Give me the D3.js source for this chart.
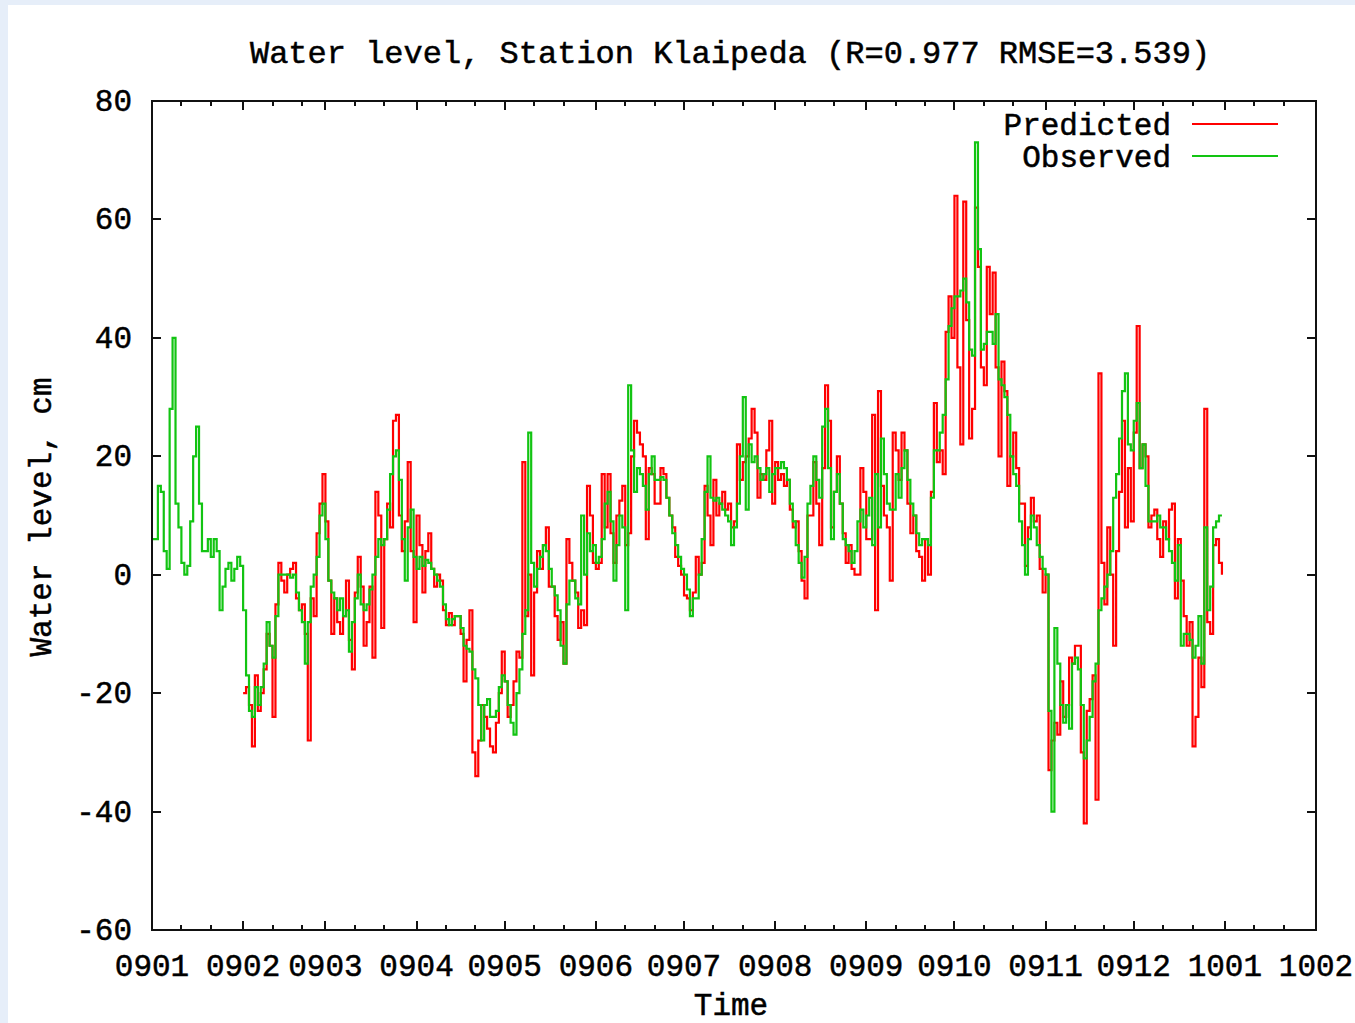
<!DOCTYPE html>
<html>
<head>
<meta charset="utf-8">
<script src="https://cdn.jsdelivr.net/npm/d3@7"></script>
<style>
  html, body { margin: 0; padding: 0; background: #e6eef9; }
  svg { display: block; }
  text { font-family: "Liberation Mono", "DejaVu Sans Mono", monospace; font-size: 31px; fill: #000; stroke: #000; stroke-width: 0.5px; }
</style>
</head>
<body>
<svg id="chart" width="1355" height="1023"></svg>
<script>
// ---- chart text ----
const chartTitle = "Water level, Station Klaipeda (R=0.977 RMSE=3.539)";
const xAxisTitle = "Time";
const yAxisTitle = "Water level, cm";
const seriesNames = ["Predicted", "Observed"];
const seriesColors = ["#ff0000", "#12c412"];

// ---- axes ----
const xDomain = ["2009-01-01", "2010-02-01"];
const yTicks = [-60, -40, -20, 0, 20, 40, 60, 80];

// ---- daily observed water level (cm), from 2009-01-01 ----
const observedStart = "2009-01-01";
const observed = [
  6, 6, 15, 14, 4, 1, 28, 40, 12, 8,
  2, 0, 1.5, 9, 20, 25, 12, 4, 4, 6,
  3, 6, 4, -6, -2, 1, 2, -1, 1, 3,
  1.5, -6, -17, -23, -24, -19, -22, -19, -15, -8,
  -12, -14, -7, 0, 0, 0, 0, -0.5, 0, -3,
  -6, -8, -15, -8, -2, 0, 3, 10, 12, 6,
  -1, -3, -4, -6, -4, -7, -6, -13, -8, -4,
  0, -5, -6, -5, -2.5, 0, 3, 6, 5, 6,
  11, 17, 20, 21, 16, 6, -1, 8, 11, 3,
  1, 3, 1.5, 2.5, 2, 1, 0, -1, -2, -5,
  -7.5, -8.5, -7.5, -7, -7, -9, -12, -12.5, -13, -16,
  -17.5, -22, -28, -22, -21, -24, -24, -23, -19, -17,
  -18, -22, -25, -27, -20, -16, -10, -6, 24, 2,
  -2, 1, 3, 5, 4, 1, -2, -3.5, -6, -12,
  -15, -5, -1, -1, -4, -5, 10, 0, 7, 4,
  5, 2, 3, 6, 12, 14, 9, -1, 5, 10,
  8, -6, 32, 21, 14, 18, 17, 15, 11, 17,
  20, 16, 16, 16.5, 16, 13, 10, 7, 5, 3,
  1, 0, -2.5, -7, -4, -4, 0, 6, 14, 20,
  13, 12.5, 13, 12, 11, 10, 9, 5, 8, 12,
  20, 30, 11, 22, 19, 20, 18, 16, 17, 18,
  14, 17, 18, 18, 19, 18, 16, 12, 9, 5,
  2, -0.5, 3, 12, 15, 20, 16, 13, 25, 28,
  18, 6, 14, 17, 12, 6, 5, 4, 2, 4,
  9, 11, 8, 10, 13, 5, 17, 8, 23, 17,
  12, 11, 11, 17, 13, 18, 21, 16, 12, 10,
  7, 5, 6, 6, 5, 13, 21, 21, 24, 27,
  33, 42, 45, 47, 47, 48, 50, 46, 38, 37,
  73, 55, 38, 39, 41, 41, 39, 44, 33, 32,
  30, 27, 20, 17, 15, 9, 5, 0, 6, 10,
  8, 5, 3, 1, 0, -23, -40, -9, -15, -22,
  -25, -22, -26, -15, -14, -16, -22, -31, -28, -24,
  -18, -15, -6, -4, -2, 0, 4, 13, 17, 23,
  31, 34, 22, 21, 26, 29, 18, 22, 15, 9,
  9, 9, 10, 8, 8, 6, 4, 2, -1, 5,
  -12, -10, -10, -11, -14, -12, -7, -15, 8, -6,
  -2, 8, 9, 10, 10
];

// ---- daily model prediction (cm), from 2009-02-01 ----
const predictedStart = "2009-02-01";
const predicted = [
  -20,
  -19, -22, -29, -17, -23, -20, -16, -10,
  -12, -24, -5, 2, -1, -3, 0, 1, 2, -4,
  -6, -5, -10, -28, -4, -7, 7, 12, 17, 9,
  -1, -10, -4, -8, -10, -7, -1, -11, -16, -3,
  3, -2, -12, -8, -2, -14, 14, 10, -9, 6,
  12, 8, 26, 27, 10, 4, 9, 19, 4, -8,
  10, 5, -3, 4, 7, 1, -2, 0, -1, -6,
  -8.5, -6.5, -8.5, -7, -7, -10, -18, -11, -6, -30,
  -34, -28, -22, -24, -26, -29, -30, -25, -20, -13,
  -18, -24, -22, -18, -13, -14, 19, -7, 0, -17,
  -3, 4, 1, 5, 8, -2, -2, -7, -11, -8,
  -15, 6, 2, -1, -3, -9, -6, -8.5, 15, 10,
  2, 1, 2, 17, 8, 17, 7, 2, 10, 12.5,
  15, 5, 7, 20, 26, 24, 22, 20, 6, 18,
  17, 12, 12, 18, 17, 13, 10, 8, 3, 1.5,
  0, -3.5, -4, -6, -3, 3, 0, 2, 15, 10,
  5, 16, 10, 12, 14, 11, 12, 8, 9, 22,
  16, 19, 20, 23, 28, 24, 13, 17, 16, 21,
  26, 12, 19, 16, 17, 15, 16, 11, 8, 9,
  4, -1, -4, 10, 10, 19, 12, 5, 18, 32,
  26, 8, 14, 20, 12, 7, 2, 5, 1, 0,
  0, 18, 14, 6, 6, 27, -6, 31, 15, 10,
  8, -1, 24, 21, 16, 24, 21, 12, 7, 10,
  4, 3, -1, 6, 0, 14, 29, 19, 21, 17,
  41, 47, 40, 64, 35, 22, 63, 43, 23, 28,
  62, 52, 35, 32, 52, 44, 51, 35, 20, 36,
  31, 15, 20, 24, 18, 12, 12, 1.5, 8, 13,
  9, 10, 1, -3, 0, -33, -28, -25, -27, -18,
  -24, -22, -14, -15, -12, -12, -30, -42, -23, -21,
  -17, -38, 34, 2, -5, 8, 0, -12, 4, 14,
  26, 8, 18, 9, 24, 42, 18, 22, 20, 8,
  10, 11, 6, 3, 9, 6, 11, 12, -4, 6,
  -1, -7, -12, -8, -29, -24, -14, -19, 28, -8,
  -10, 5, 6, 2, 0
];

// ---- layout ----
const W = 1355, H = 1023;
const plot = { left: 152, right: 1316, top: 101, bottom: 930 };

const svg = d3.select("#chart");

// page panel
svg.append("rect").attr("x", 0).attr("y", 0).attr("width", W).attr("height", H).attr("fill", "#e6eef9");
svg.append("rect").attr("x", 8).attr("y", 5).attr("width", W - 8).attr("height", H - 5).attr("fill", "#ffffff");

const x = d3.scaleUtc()
  .domain(xDomain.map(s => new Date(s)))
  .range([plot.left, plot.right]);
const y = d3.scaleLinear()
  .domain([d3.min(yTicks), d3.max(yTicks)])
  .range([plot.bottom, plot.top]);

const toPoints = (start, values) => {
  const t0 = new Date(start);
  return values.map((v, i) => ({ date: d3.utcDay.offset(t0, i), value: v }));
};
const series = [
  { name: seriesNames[0], color: seriesColors[0], points: toPoints(predictedStart, predicted) },
  { name: seriesNames[1], color: seriesColors[1], points: toPoints(observedStart, observed) }
];

// clip for the data lines
svg.append("defs").append("clipPath").attr("id", "plotClip")
  .append("rect")
  .attr("x", plot.left).attr("y", plot.top)
  .attr("width", plot.right - plot.left).attr("height", plot.bottom - plot.top);

const line = d3.line()
  .x(d => x(d.date))
  .y(d => y(d.value))
  .curve(d3.curveStepAfter);

const lines = svg.append("g").attr("clip-path", "url(#plotClip)");
series.forEach(s => {
  lines.append("path")
    .datum(s.points)
    .attr("fill", "none")
    .attr("stroke", s.color)
    .attr("stroke-width", 2.2)
    .attr("d", line);
});

// ---- axes: ticks on all four sides, pointing inward ----
const axisColor = "#111";
const axes = svg.append("g").attr("stroke", axisColor).attr("shape-rendering", "crispEdges");

const majorLen = 9, minorLen = 5;
const monthTicks = d3.utcMonth.range(x.domain()[0], d3.utcDay.offset(x.domain()[1], 1));
const minorTicks = d3.utcDay.range(x.domain()[0], x.domain()[1])
  .filter(d => d.getUTCDate() === 11 || d.getUTCDate() === 21);

monthTicks.forEach(d => {
  const px = Math.round(x(d));
  axes.append("line").attr("x1", px).attr("x2", px).attr("y1", plot.bottom).attr("y2", plot.bottom - majorLen).attr("stroke-width", 2);
  axes.append("line").attr("x1", px).attr("x2", px).attr("y1", plot.top).attr("y2", plot.top + majorLen).attr("stroke-width", 2);
});
minorTicks.forEach(d => {
  const px = Math.round(x(d));
  axes.append("line").attr("x1", px).attr("x2", px).attr("y1", plot.bottom).attr("y2", plot.bottom - minorLen).attr("stroke-width", 2);
  axes.append("line").attr("x1", px).attr("x2", px).attr("y1", plot.top).attr("y2", plot.top + minorLen).attr("stroke-width", 2);
});
yTicks.forEach(v => {
  const py = Math.round(y(v));
  axes.append("line").attr("x1", plot.left).attr("x2", plot.left + majorLen).attr("y1", py).attr("y2", py).attr("stroke-width", 2);
  axes.append("line").attr("x1", plot.right).attr("x2", plot.right - majorLen).attr("y1", py).attr("y2", py).attr("stroke-width", 2);
});

// frame
axes.append("rect")
  .attr("x", plot.left).attr("y", plot.top)
  .attr("width", plot.right - plot.left).attr("height", plot.bottom - plot.top)
  .attr("fill", "none").attr("stroke-width", 2);

// tick labels
const fmtMonth = d3.utcFormat("%y%m");
svg.append("g").selectAll("text").data(monthTicks).join("text")
  .attr("x", d => x(d))
  .attr("y", 976)
  .attr("text-anchor", "middle")
  .text(d => fmtMonth(d));

svg.append("g").selectAll("text").data(yTicks).join("text")
  .attr("x", 132)
  .attr("y", d => y(d) + 10)
  .attr("text-anchor", "end")
  .text(d => d);

// titles
svg.append("text").attr("x", 730).attr("y", 63).attr("text-anchor", "middle")
  .style("font-size", "32px").text(chartTitle);
svg.append("text").attr("x", 731).attr("y", 1015).attr("text-anchor", "middle").text(xAxisTitle);
svg.append("text")
  .attr("transform", "translate(51,517) rotate(-90)")
  .attr("text-anchor", "middle")
  .text(yAxisTitle);

// legend
const legend = svg.append("g");
series.forEach((s, i) => {
  const ly = 124 + i * 32;
  legend.append("text")
    .attr("x", 1171).attr("y", ly + 11)
    .attr("text-anchor", "end")
    .text(s.name);
  legend.append("line")
    .attr("x1", 1192).attr("x2", 1278)
    .attr("y1", ly).attr("y2", ly)
    .attr("stroke", s.color).attr("stroke-width", 2)
    .attr("shape-rendering", "crispEdges");
});
</script>
</body>
</html>
